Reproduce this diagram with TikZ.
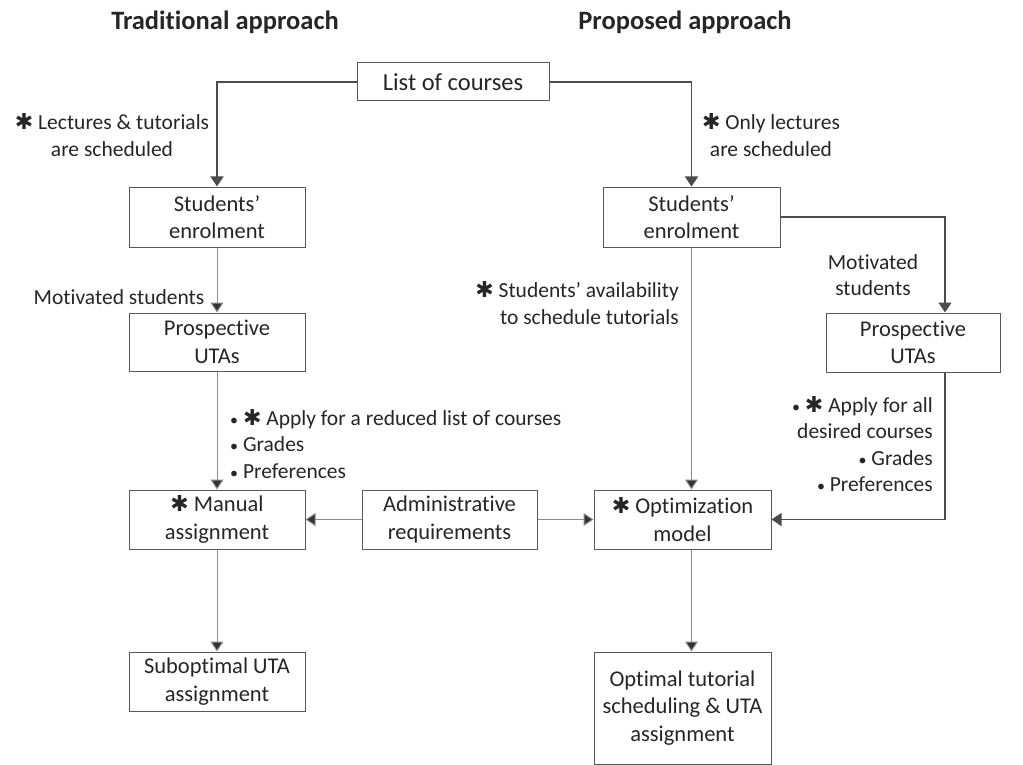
\documentclass[tikz,border=0pt]{standalone}
\usepackage{fontspec}
\setmainfont{Carlito}[Ligatures={NoCommon}]
\newfontfamily\dejavu{DejaVu Sans}
\usetikzlibrary{arrows.meta}
\newcommand{\astk}{{\dejavu\bfseries\fontsize{22}{22}\selectfont ✱}}
\newcommand{\bul}{{\fontsize{16}{16}\selectfont •}}
\begin{document}
\begin{tikzpicture}[x=1pt,y=-1pt,
  every node/.style={font=\fontsize{21.5}{26.5}\selectfont, text=black!85, inner sep=0pt},
  box/.style={draw=black!65, line width=1pt, fill=white, align=center, font=\fontsize{22.5}{27.5}\selectfont},
  thickln/.style={draw=black!70, line width=1.4pt, -{Triangle[width=13pt,length=10pt]}},
  thinln/.style={draw=black!45, line width=1pt, -{Triangle[width=13pt,length=10pt,fill=black!80]}},
  lbl/.style={align=center}]
\useasboundingbox (0,0) rectangle (1023,765);
\node[font=\bfseries\fontsize{26.5}{30}\selectfont] (h1) at (225,22) {Traditional approach};
\node[font=\bfseries\fontsize{26.5}{30}\selectfont] (h2) at (685,22) {Proposed approach};

\node[box, minimum width=192pt, minimum height=38pt, font=\fontsize{24.5}{28}\selectfont] (list) at (453,82) {List of courses};
\node[box, minimum width=176pt, minimum height=60pt] (ls) at (217,217) {Students'\\enrolment};
\node[box, minimum width=177pt, minimum height=60pt] (rs) at (691.5,217) {Students'\\enrolment};
\node[box, minimum width=176pt, minimum height=58pt] (lp) at (217,342) {Prospective\\UTAs};
\node[box, minimum width=174pt, minimum height=59pt] (rp) at (913,342.5) {Prospective\\UTAs};
\node[box, minimum width=176pt, minimum height=59pt] (man) at (217,519.5) {\astk{} Manual\\assignment};
\node[box, minimum width=175pt, minimum height=59pt] (adm) at (449.5,519.5) {Administrative\\requirements};
\node[box, minimum width=177pt, minimum height=59pt] (opt) at (682.5,519.5) {\astk{} Optimization\\model};
\node[box, minimum width=176pt, minimum height=59pt] (sub) at (217,681.5) {Suboptimal UTA\\assignment};
\node[box, minimum width=177pt, minimum height=112pt] (optm) at (682.5,708) {Optimal tutorial\\scheduling \& UTA\\assignment};

\coordinate (rc) at (945,0);

% labels
\node[lbl] (l1) at (112,135) {\astk{} Lectures \& tutorials\\are scheduled};
\node[lbl] (l2) at (771,135) {\astk{} Only lectures\\are scheduled};
\node[lbl] (l3) at (119,297) {Motivated students};
\node[lbl] (l4) at (873,275) {Motivated\\students};
\node[align=right, anchor=east] (l5) at (679,303) {\astk{} Students' availability\\to schedule tutorials};
\node[align=left, anchor=west] (l6) at (230,444) {\bul{} \astk{} Apply for a reduced list of courses\\\bul{} Grades\\\bul{} Preferences};
\node[align=right, anchor=east] (l7) at (933,444) {\bul{} \astk{} Apply for all\\desired courses\\\bul{} Grades\\\bul{} Preferences};

% connectors
\draw[thickln] (list.west) -| (ls.north);
\draw[thickln] (list.east) -| (rs.north);
\draw[thinln] (ls.south) -- (lp.north);
\draw[thinln] (lp.south) -- (man.north);
\draw[thinln] (man.south) -- (sub.north);
\draw[thickln] (rs.east) -| (rc |- rp.north);
\draw[thickln] (rc |- rp.south) |- (opt.east);
\draw[thinln] (rs.south) -- (rs.south |- opt.north);
\draw[thinln] (rs.south |- opt.south) -- (rs.south |- optm.north);
\draw[thinln] (adm.west) -- (man.east);
\draw[thinln] (adm.east) -- (opt.west);
\end{tikzpicture}
\end{document}
